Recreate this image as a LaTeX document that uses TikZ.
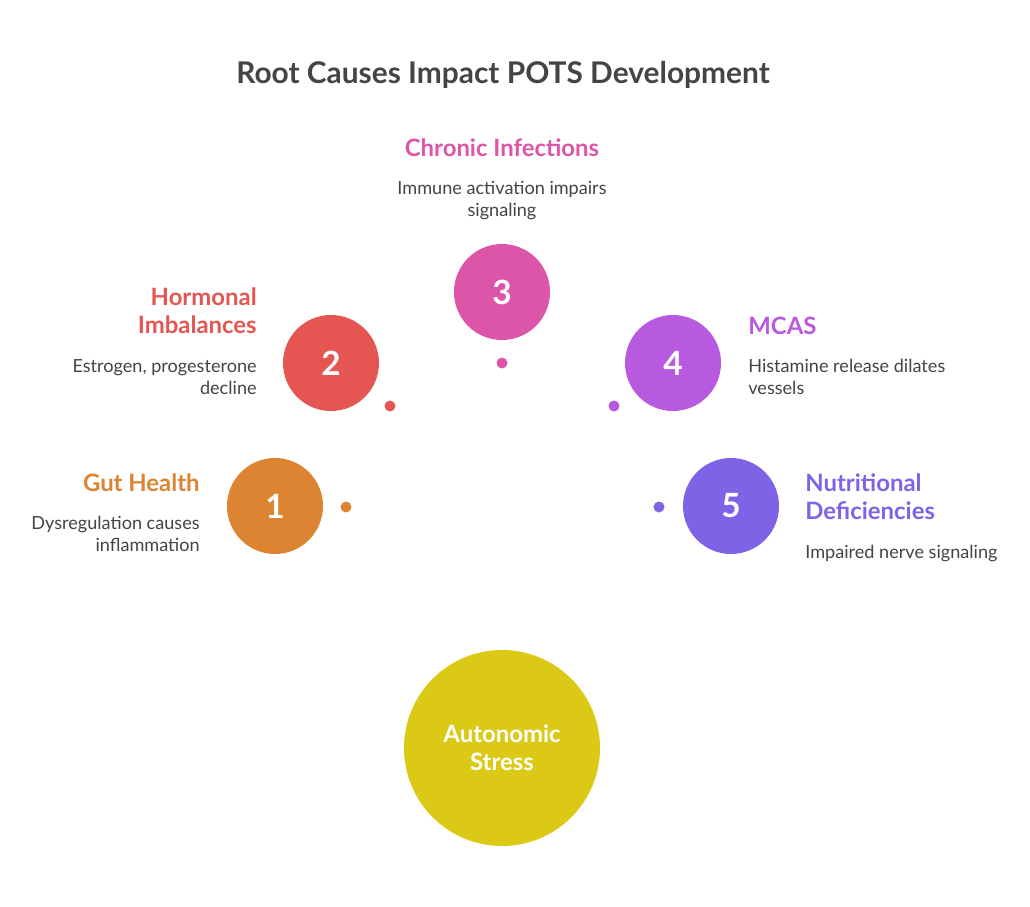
\documentclass[tikz,border=0pt]{standalone}
\usepackage{fontspec}
\setmainfont{Lato}
\usetikzlibrary{positioning}
\definecolor{cGut}{HTML}{DD8433}
\definecolor{cHorm}{HTML}{E55552}
\definecolor{cChron}{HTML}{DD55A8}
\definecolor{cMcas}{HTML}{B85AE0}
\definecolor{cNutr}{HTML}{7E63E6}
\definecolor{cAuto}{HTML}{DCC915}
\definecolor{cText}{HTML}{444444}
\begin{document}
\begin{tikzpicture}[x=0.02cm,y=-0.02cm]
        \tikzset{
          cause/.style={circle, minimum size=96*0.02cm, inner sep=0pt,
            text=white, font=\fontsize{19}{19}\selectfont\bfseries},
          dot/.style={circle, minimum size=11*0.02cm, inner sep=0pt},
          head/.style={font=\fontsize{13.6}{15.9}\selectfont\bfseries, inner sep=0pt},
          body/.style={text=cText, font=\fontsize{10.3}{12.5}\selectfont, inner sep=0pt}
        }
	\useasboundingbox (0,0) rectangle (1030,906);
	\node[font=\fontsize{17}{18}\selectfont\bfseries, text=cText] (title)
	  at (503,75) {Root Causes Impact POTS Development};

	% the five causes
	\node[cause, fill=cGut] (C1) at (275,506) {1};
	\node[cause, fill=cHorm] (C2) at (331,363) {2};
	\node[cause, fill=cChron] (C3) at (502,292) {3};
	\node[cause, fill=cMcas] (C4) at (673,363) {4};
	\node[cause, fill=cNutr] (C5) at (731,506) {5};
	\node[dot, fill=cGut] (D1) at (346,507) {};
	\node[dot, fill=cHorm] (D2) at (390,406) {};
	\node[dot, fill=cChron] (D3) at (502,363) {};
	\node[dot, fill=cMcas] (D4) at (614,406) {};
	\node[dot, fill=cNutr] (D5) at (659,507) {};

	% the outcome
	\node[circle, fill=cAuto, minimum size=196*0.02cm, text=white,
	  align=center, font=\fontsize{13.6}{15.9}\selectfont\bfseries] (S)
	  at (502,748) {Autonomic\\Stress};

	% labels
	\node[head, text=cGut, anchor=base east, align=right] (H1)
	  at (200,491) {Gut Health};
	\node[body, anchor=base east, align=right] (B1)
	  at (200,551) {Dysregulation causes\\inflammation};
	\node[head, text=cHorm, anchor=base east, align=right] (H2)
	  at (257,333) {Hormonal\\Imbalances};
	\node[body, anchor=base east, align=right] (B2)
	  at (257,394) {Estrogen, progesterone\\decline};
	\node[head, text=cChron, anchor=base, align=center] (H3)
	  at (502,156) {Chronic Infections};
	\node[body, anchor=base, align=center] (B3)
	  at (502,216) {Immune activation impairs\\signaling};
	\node[head, text=cMcas, anchor=base west, align=left] (H4)
	  at (748,334) {MCAS};
	\node[body, anchor=base west, align=left] (B4)
	  at (748,394) {Histamine release dilates\\vessels};
	\node[head, text=cNutr, anchor=base west, align=left] (H5)
	  at (805,519) {Nutritional\\Deficiencies};
	\node[body, anchor=base west, align=left] (B5)
	  at (805,558) {Impaired nerve signaling};
\end{tikzpicture}
\end{document}
